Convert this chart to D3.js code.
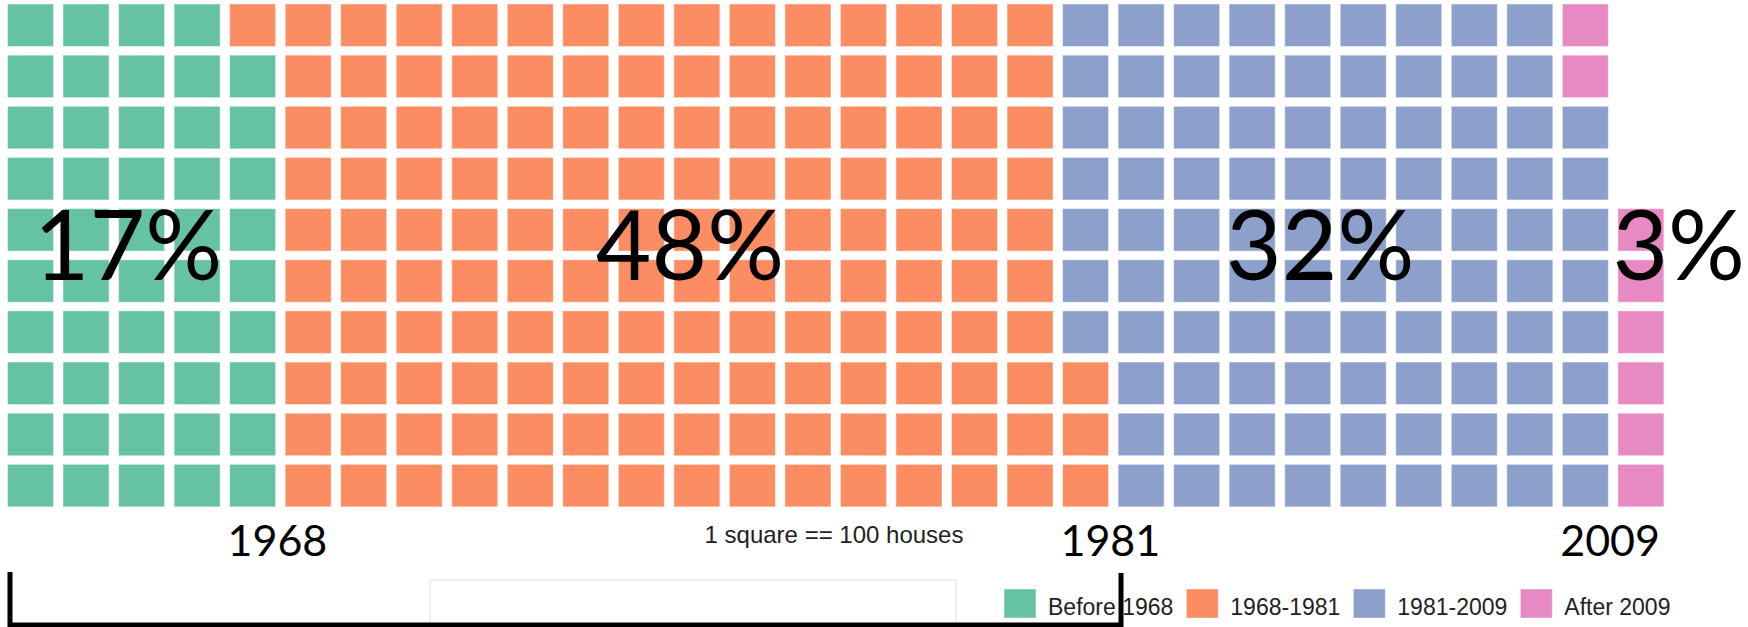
<!DOCTYPE html>
<html>
<head>
<meta charset="utf-8">
<script src="https://cdn.jsdelivr.net/npm/d3@7"></script>
<style>
  html, body { margin: 0; padding: 0; background: #fff; overflow: hidden; }
</style>
</head>
<body>
<div id="chart"></div>
<script>
// data: 1 square == 100 houses
const categories = ["Before 1968", "1968-1981", "1981-2009", "After 2009"];
const squares = [49, 144, 95, 8];
const percentLabels = ["17%", "48%", "32%", "3%"];
const yearLabels = ["1968", "1981", "2009"];
const colors = ["#66c2a5", "#fc8d62", "#8da0cb", "#e78ac3"];

const width = 1748;
const height = 627;
const rows = 10;
const cols = 30;
const pitchX = 55.53, pitchY = 51.15;
const cellW = 46, cellH = 42.5;

const svg = d3.select("#chart")
  .append("svg")
  .attr("width", width)
  .attr("height", height);

const x = d3.scaleLinear().domain([0, cols]).range([7.5, 7.5 + cols * pitchX]);
const y = d3.scaleLinear().domain([0, rows]).range([4, 4 + rows * pitchY]);
const color = d3.scaleOrdinal().domain(categories).range(colors);

// one entry per square, filled column by column from the bottom
const cells = [];
categories.forEach((c, ci) => {
  for (let k = 0; k < squares[ci]; k++) cells.push({ cat: c });
});
cells.forEach((d, i) => {
  d.col = Math.floor(i / rows);
  d.row = rows - 1 - (i % rows);
});

svg.append("g")
  .selectAll("rect")
  .data(cells)
  .join("rect")
  .attr("x", d => x(d.col))
  .attr("y", d => y(d.row))
  .attr("width", cellW)
  .attr("height", cellH)
  .attr("fill", d => color(d.cat))
  .attr("stroke", "#fff")
  .attr("stroke-opacity", 0.45)
  .attr("stroke-width", 1);

// column where each category ends
const cum = d3.cumsum(squares);
const gap = pitchX - cellW;

// percentage labels (layout in column units)
const pctPos = [
  { col: 2.17, anchor: "middle" },
  { col: 12.29, anchor: "middle" },
  { col: 23.64, anchor: "middle" },
  { col: 31.3, anchor: "end" }
];
svg.append("g")
  .selectAll("text")
  .data(percentLabels)
  .join("text")
  .attr("x", (d, i) => Math.min(x(pctPos[i].col), width - 3))
  .attr("y", 280)
  .attr("text-anchor", (d, i) => pctPos[i].anchor)
  .style("font-family", "Lato, 'Open Sans', sans-serif")
  .style("font-size", "96px")
  .attr("fill", "#000")
  .text(d => d);

// year labels at category boundaries
svg.append("g")
  .selectAll("text")
  .data(yearLabels)
  .join("text")
  .attr("x", (d, i) => x(Math.ceil(cum[i] / rows)) - gap / 2 - 3)
  .attr("y", 556)
  .attr("text-anchor", "middle")
  .style("font-family", "Lato, 'Open Sans', sans-serif")
  .style("font-size", "43px")
  .attr("fill", "#000")
  .text(d => d);

// faint box and black bracket at the bottom
svg.append("rect")
  .attr("x", 430).attr("y", 580)
  .attr("width", 526).attr("height", 60)
  .attr("fill", "#fff")
  .attr("stroke", "#f0f0f0")
  .attr("stroke-width", 2);

svg.append("path")
  .attr("d", "M10,572 V625 H1121 V573")
  .attr("fill", "none")
  .attr("stroke", "#000")
  .attr("stroke-width", 5);

svg.append("text")
  .attr("x", 834)
  .attr("y", 543)
  .attr("text-anchor", "middle")
  .style("font-family", "'Liberation Sans', Arial, sans-serif")
  .style("font-size", "24px")
  .attr("fill", "#222")
  .text("1 square == 100 houses");

// legend
const legend = svg.append("g");
let lx = 1004;
categories.forEach((c, i) => {
  legend.append("rect")
    .attr("x", lx).attr("y", 589)
    .attr("width", 32).attr("height", 29)
    .attr("fill", color(c))
    .attr("stroke", "#fff")
    .attr("stroke-opacity", 0.45);
  const t = legend.append("text")
    .attr("x", lx + 44)
    .attr("y", 615)
    .style("font-family", "'Liberation Sans', Arial, sans-serif")
    .style("font-size", "23px")
    .attr("fill", "#222")
    .text(c);
  lx += 44 + t.node().getComputedTextLength() + 13;
});
</script>
</body>
</html>
